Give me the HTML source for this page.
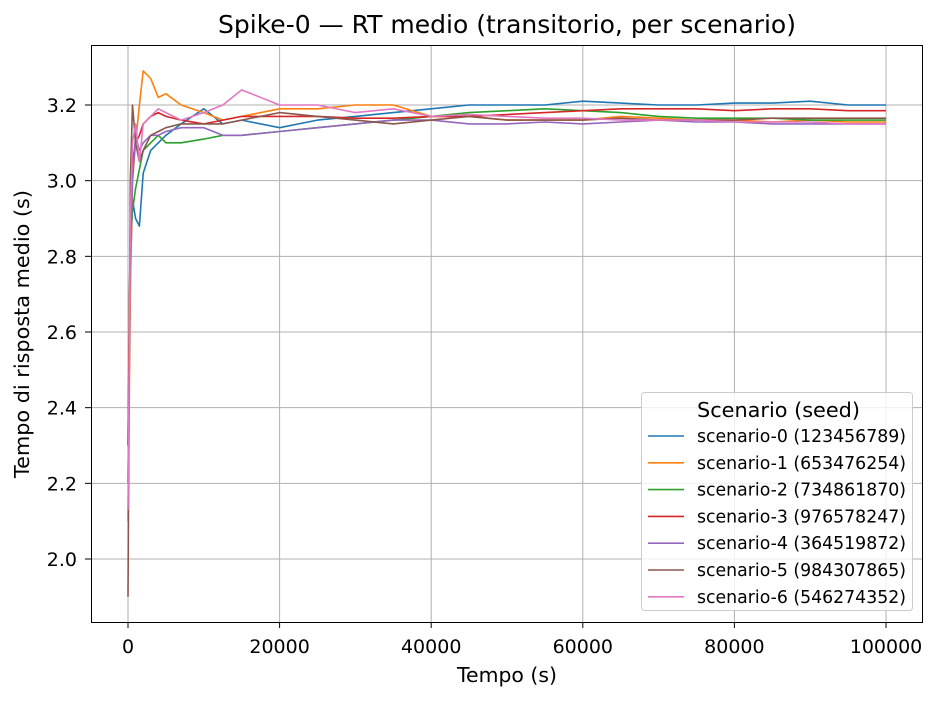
<!DOCTYPE html>
<html><head><meta charset="utf-8"><style>
html,body{margin:0;padding:0;background:#fff;}
svg text{font-family:"DejaVu Sans","Liberation Sans",sans-serif;fill:#000;}
</style></head><body>
<svg id="chart" width="940" height="700" xmlns="http://www.w3.org/2000/svg">
<rect x="0" y="0" width="940" height="700" fill="#fff"/>
<g id="grid"></g>
<g id="series"></g>
<rect x="91.5" y="45.5" width="831" height="577" fill="none" stroke="#000" stroke-width="1"/>
<g id="ticks"></g>
<text x="218" y="33" font-size="25" textLength="578" lengthAdjust="spacingAndGlyphs">Spike-0 — RT medio (transitorio, per scenario)</text>
<text x="457" y="682" font-size="20.5" textLength="100" lengthAdjust="spacingAndGlyphs">Tempo (s)</text>
<text x="0" y="0" font-size="20.5" textLength="288" lengthAdjust="spacingAndGlyphs" transform="translate(29 478) rotate(-90)">Tempo di risposta medio (s)</text>
<g id="legend">
<rect x="641.5" y="392.5" width="271" height="218" rx="3" fill="#fff" fill-opacity="0.8" stroke="#ccc"/>
<text x="697" y="417" font-size="20.5" textLength="163" lengthAdjust="spacingAndGlyphs">Scenario (seed)</text>
</g>
</svg>
<script>
const xs = [0,300,600,1000,1500,2000,3000,4000,5000,7000,10000,12500,15000,20000,25000,30000,35000,40000,45000,50000,55000,60000,65000,70000,75000,80000,85000,90000,95000,100000];
const s0 = [2.2,2.75,2.95,2.9,2.88,3.02,3.08,3.1,3.12,3.15,3.19,3.15,3.16,3.14,3.16,3.17,3.18,3.19,3.2,3.2,3.2,3.21,3.205,3.2,3.2,3.205,3.205,3.21,3.2,3.2];
const s1 = [2.1,2.7,3.0,3.1,3.2,3.29,3.27,3.22,3.23,3.2,3.18,3.16,3.17,3.19,3.19,3.2,3.2,3.17,3.17,3.16,3.16,3.16,3.17,3.165,3.16,3.16,3.155,3.16,3.155,3.155];
const s2 = [2.3,2.85,2.92,2.98,3.03,3.08,3.1,3.12,3.1,3.1,3.11,3.12,3.12,3.13,3.14,3.15,3.16,3.17,3.18,3.185,3.19,3.185,3.18,3.17,3.165,3.165,3.165,3.16,3.16,3.16];
const s3 = [2.3,2.9,3.05,3.1,3.12,3.15,3.17,3.18,3.17,3.16,3.15,3.16,3.17,3.17,3.17,3.165,3.165,3.17,3.17,3.175,3.18,3.185,3.19,3.19,3.19,3.185,3.19,3.19,3.185,3.185];
const s4 = [2.2,2.8,3.0,3.12,3.08,3.1,3.12,3.12,3.13,3.14,3.14,3.12,3.12,3.13,3.14,3.15,3.16,3.16,3.15,3.15,3.155,3.15,3.155,3.16,3.155,3.155,3.15,3.15,3.15,3.15];
const s5 = [1.9,3.0,3.2,3.1,3.05,3.08,3.12,3.13,3.14,3.15,3.15,3.15,3.16,3.18,3.17,3.16,3.15,3.16,3.17,3.16,3.16,3.16,3.165,3.16,3.16,3.16,3.165,3.165,3.165,3.165];
const s6 = [2.13,2.9,3.1,3.15,3.05,3.15,3.17,3.19,3.18,3.16,3.18,3.2,3.24,3.2,3.2,3.18,3.19,3.17,3.175,3.17,3.165,3.165,3.16,3.16,3.16,3.155,3.155,3.155,3.15,3.15];
const seriesNames = ["scenario-0 (123456789)","scenario-1 (653476254)","scenario-2 (734861870)","scenario-3 (976578247)","scenario-4 (364519872)","scenario-5 (984307865)","scenario-6 (546274352)"];
const colors = ["#1f77b4","#ff7f0e","#2ca02c","#d62728","#9467bd","#8c564b","#e377c2"];
const xTicks = [0,20000,40000,60000,80000,100000];
const yTicks = [2.0,2.2,2.4,2.6,2.8,3.0,3.2];

const NS="http://www.w3.org/2000/svg";
function X(v){return 128 + v*(886-128)/100000;}
function Y(v){return 559 - (v-2.0)*(559-105)/1.2;}
function mk(tag,attrs,parent){const e=document.createElementNS(NS,tag);for(const k in attrs)e.setAttribute(k,attrs[k]);parent.appendChild(e);return e;}
const grid=document.getElementById('grid'), ticks=document.getElementById('ticks'), ser=document.getElementById('series'), leg=document.getElementById('legend');
xTicks.forEach(t=>{
  const g=mk('line',{x1:X(t),x2:X(t),y1:45,y2:622,stroke:'#b0b0b0','stroke-width':1},grid);
  
  
  mk('line',{x1:X(t),x2:X(t),y1:622,y2:628,stroke:'#000'},ticks);
  const tx=mk('text',{x:X(t),y:653,'font-size':19,'text-anchor':'middle'},ticks);
  tx.textContent=t;
  
  
});
yTicks.forEach(t=>{
  const g=mk('line',{x1:91,x2:922,y1:Y(t),y2:Y(t),stroke:'#b0b0b0','stroke-width':1},grid);
  
  
  mk('line',{x1:85,x2:91,y1:Y(t),y2:Y(t),stroke:'#000'},ticks);
  const tx=mk('text',{x:77,y:Y(t)+7,'font-size':19,'text-anchor':'end'},ticks);
  tx.textContent=t.toFixed(1);
  
  
});
[s0,s1,s2,s3,s4,s5,s6].forEach((s,i)=>{
  const p=mk('polyline',{points:s.map((v,j)=>X(xs[j]).toFixed(1)+','+Y(v).toFixed(1)).join(' '),fill:'none',stroke:colors[i],'stroke-width':1.6,'stroke-linejoin':'round'},ser);
  
  
  const ly=436+i*26.8;
  const l=mk('line',{x1:648,x2:684,y1:ly,y2:ly,stroke:colors[i],'stroke-width':1.6},leg);
  
  
  const t=mk('text',{x:697,y:ly+6,'font-size':17.5,textLength:209,lengthAdjust:'spacingAndGlyphs'},leg);
  t.textContent=seriesNames[i];
  
  
});
</script>
</body></html>
